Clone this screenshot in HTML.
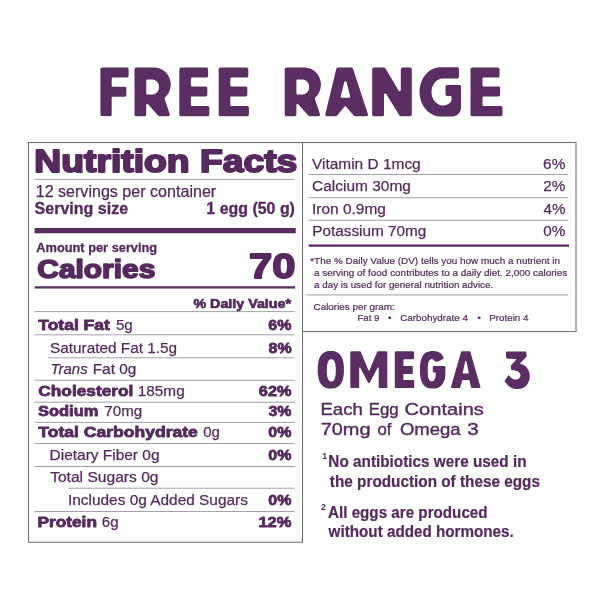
<!DOCTYPE html>
<html lang="en"><head><meta charset="utf-8"><title>Free Range - Nutrition Facts</title>
<style>
html,body{margin:0;padding:0;background:#fff;}
body{width:600px;height:600px;overflow:hidden;font-family:"Liberation Sans",sans-serif;}
svg{display:block;will-change:transform;}
svg text{font-family:"Liberation Sans",sans-serif;fill:#562a5e;white-space:pre;}
</style></head>
<body>
<svg width="600" height="600" viewBox="0 0 600 600">
<g fill="#5a2e62" fill-rule="evenodd">
<path d="M111.7,78.8 111.8,78.3 112.0,78.0 112.3,77.7 112.8,77.6 127.0,77.6 127.4,77.5 127.9,77.3 128.4,76.8 128.6,76.1 128.6,69.2 128.5,68.8 128.3,68.3 127.8,67.8 127.0,67.6 102.0,67.6 101.2,67.8 100.9,68.0 100.6,68.4 100.4,69.2 100.4,114.6 100.5,115.1 100.7,115.6 101.1,115.9 101.6,116.1 110.2,116.2 111.0,115.9 111.5,115.4 111.7,114.6 111.7,97.9 111.8,97.3 112.1,97.0 112.4,96.8 112.9,96.7 125.0,96.7 125.4,96.6 125.8,96.3 126.1,96.0 126.3,95.5 126.4,88.3 126.3,87.7 126.0,87.3 125.5,86.9 124.9,86.7 112.9,86.7 112.3,86.6 111.9,86.2 111.7,85.6Z"/>
<path d="M146.2,105.2 146.4,104.6 146.9,104.1 147.6,104.1 148.2,104.4 158.1,115.6 158.7,116.1 159.3,116.2 168.3,116.2 169.1,115.9 169.4,115.6 169.7,115.2 169.8,114.7 169.7,114.1 164.6,98.8 164.5,98.3 164.8,97.7 166.5,95.9 168.0,94.0 169.0,92.2 169.8,90.2 170.4,87.8 170.7,85.4 170.7,83.3 170.3,80.9 169.8,78.9 169.0,76.9 168.0,75.1 166.8,73.5 165.4,72.0 163.5,70.5 161.8,69.4 160.0,68.6 157.6,67.9 155.3,67.6 136.1,67.6 135.6,67.7 135.2,67.9 134.8,68.2 134.6,68.6 134.5,69.2 134.5,114.6 134.6,115.2 134.9,115.7 135.5,116.1 136.1,116.2 144.6,116.2 145.2,116.1 145.7,115.8 146.1,115.2 146.2,114.6ZM146.2,93.3 146.3,80.4 146.5,79.9 146.8,79.6 147.2,79.5 152.7,79.5 154.0,79.8 155.1,80.3 156.3,81.1 157.2,82.0 158.1,83.3 158.6,84.6 158.9,86.1 159.0,87.7 158.7,89.2 158.2,90.6 157.3,91.9 156.3,92.9 155.5,93.5 154.7,93.9 153.7,94.3 152.7,94.5 147.3,94.5 146.8,94.4 146.5,94.1 146.3,93.6Z"/>
<path d="M179.3,114.6 179.4,115.2 179.7,115.7 180.3,116.1 180.9,116.2 207.7,116.2 208.5,116.0 208.8,115.8 209.1,115.4 209.3,114.6 209.3,107.5 209.0,106.7 208.5,106.2 207.7,106.0 192.0,106.0 191.5,105.9 191.2,105.6 191.0,105.1 190.9,104.8 190.9,97.5 191.1,96.9 191.5,96.5 192.1,96.4 205.8,96.4 206.6,96.1 207.0,95.8 207.2,95.4 207.3,94.8 207.3,88.0 207.2,87.4 206.9,86.9 206.3,86.5 205.7,86.4 192.1,86.4 191.5,86.3 191.1,85.9 190.9,85.3 190.9,78.8 191.0,78.5 191.2,78.0 191.5,77.7 192.0,77.6 206.5,77.6 207.0,77.5 207.4,77.3 207.9,76.8 208.1,76.1 208.1,69.2 207.9,68.4 207.6,68.0 207.3,67.8 206.5,67.6 180.9,67.6 180.1,67.8 179.8,68.0 179.5,68.4 179.3,69.2Z"/>
<path d="M218.7,114.6 218.8,115.2 219.1,115.7 219.7,116.1 220.3,116.2 247.3,116.2 248.1,116.0 248.6,115.5 248.8,115.0 248.9,114.6 248.9,107.5 248.6,106.7 248.1,106.2 247.3,106.0 231.4,106.0 230.9,105.9 230.6,105.6 230.4,105.1 230.3,104.8 230.3,97.5 230.5,96.9 230.9,96.5 231.5,96.4 245.8,96.4 246.6,96.1 247.0,95.8 247.2,95.4 247.3,94.8 247.3,88.0 247.2,87.4 246.8,86.8 246.3,86.5 245.7,86.4 231.5,86.4 230.9,86.3 230.5,85.9 230.3,85.3 230.3,78.8 230.4,78.5 230.6,78.0 230.9,77.7 231.4,77.6 246.7,77.6 247.1,77.5 247.6,77.3 248.1,76.8 248.3,76.0 248.3,69.1 248.1,68.4 247.6,67.9 247.1,67.7 246.7,67.6 220.3,67.6 219.5,67.8 219.0,68.3 218.8,68.8 218.7,69.2Z"/>
<path d="M296.4,105.2 296.6,104.6 297.1,104.1 297.8,104.1 298.4,104.4 308.3,115.6 308.9,116.1 309.5,116.2 318.5,116.2 319.3,115.9 319.6,115.6 319.9,115.2 320.0,114.7 319.9,114.1 314.8,98.8 314.7,98.3 315.0,97.7 316.7,95.9 318.2,94.0 319.2,92.2 320.0,90.2 320.6,87.8 320.9,85.4 320.9,83.3 320.5,80.9 320.0,78.9 319.2,76.9 318.2,75.1 317.0,73.5 315.6,72.0 313.7,70.5 312.0,69.4 310.2,68.6 307.8,67.9 305.5,67.6 286.3,67.6 285.8,67.7 285.4,67.9 285.0,68.2 284.8,68.6 284.7,69.2 284.7,114.6 284.8,115.2 285.1,115.7 285.7,116.1 286.3,116.2 294.8,116.2 295.4,116.1 295.9,115.8 296.3,115.2 296.4,114.6ZM296.4,80.7 296.5,80.2 296.7,79.9 297.0,79.6 297.4,79.5 302.9,79.5 304.2,79.8 305.3,80.3 306.5,81.1 307.4,82.0 308.3,83.3 308.8,84.6 309.1,86.1 309.2,87.7 308.9,89.2 308.4,90.6 307.5,91.9 306.5,92.9 305.7,93.5 304.9,93.9 303.9,94.3 302.9,94.5 297.5,94.5 297.0,94.4 296.7,94.1 296.5,93.6 296.4,93.3Z"/>
<path d="M325.3,114.2 325.3,114.9 325.5,115.5 326.0,115.9 326.5,116.2 336.0,116.2 336.6,116.1 337.3,115.6 344.4,106.7 344.8,106.4 345.2,106.3 345.8,106.4 346.1,106.7 353.7,115.6 354.4,116.1 355.0,116.2 366.5,116.2 367.3,115.9 367.8,115.4 368.0,114.8 367.9,114.1 353.0,68.7 352.7,68.2 352.2,67.8 351.4,67.6 337.8,67.6 337.1,67.8 336.5,68.4 336.3,68.8ZM341.8,97.8 341.3,97.7 340.9,97.3 340.7,96.9 340.7,96.3 344.3,82.1 344.5,81.8 344.9,81.5 345.3,81.3 345.8,81.3 346.4,81.7 346.6,82.2 350.1,96.3 350.1,96.9 349.7,97.5 349.1,97.8Z"/>
<path d="M373.8,67.6 373.2,67.7 372.7,68.0 372.3,68.6 372.2,69.2 372.2,114.6 372.3,115.1 372.5,115.6 373.0,116.0 373.7,116.2 382.4,116.2 383.2,116.0 383.5,115.8 383.8,115.4 384.0,114.6 384.0,94.7 384.1,94.3 384.4,93.9 384.8,93.7 385.2,93.6 385.8,93.7 386.2,94.1 399.5,115.4 399.8,115.8 400.3,116.1 400.9,116.2 410.2,116.2 410.7,116.1 411.2,115.9 411.6,115.3 411.8,114.6 411.8,69.2 411.7,68.7 411.5,68.2 411.0,67.8 410.3,67.6 402.4,67.6 402.0,67.7 401.5,67.9 401.0,68.5 400.8,69.2 400.8,90.0 400.7,90.5 400.4,90.8 400.0,91.1 399.6,91.1 399.1,91.0 398.6,90.5 385.5,68.4 385.2,68.0 384.6,67.7 384.1,67.6Z"/>
<path d="M440.5,67.2 437.9,67.4 435.4,67.9 433.4,68.7 431.0,69.8 428.8,71.3 426.8,73.2 425.3,74.9 423.6,77.2 422.2,79.7 421.1,82.4 420.3,85.3 419.7,88.2 419.5,90.7 419.6,93.7 419.9,96.7 420.6,99.6 421.3,101.9 422.5,104.5 423.6,106.6 425.3,108.8 426.8,110.5 428.4,112.0 430.6,113.6 432.5,114.6 433.9,115.3 435.9,115.9 437.4,116.2 439.4,116.5 452.0,116.5 453.3,116.4 454.6,116.1 455.8,115.7 456.7,115.2 457.7,114.4 458.6,113.6 459.5,112.5 460.0,111.7 460.5,110.5 460.8,109.2 461.0,107.5 461.0,86.6 460.9,86.0 460.6,85.6 460.0,85.1 459.4,85.0 447.1,85.0 446.4,85.2 445.8,85.6 445.6,86.1 445.5,86.6 445.5,94.4 445.6,95.0 446.1,95.6 446.8,96.0 450.4,96.0 450.8,96.1 451.1,96.4 451.4,96.7 451.5,97.1 451.5,100.8 451.3,101.3 450.7,102.0 449.6,103.0 448.7,103.7 446.9,104.7 445.8,105.1 444.7,105.4 443.3,105.5 442.2,105.5 440.8,105.2 439.6,104.9 438.3,104.3 437.1,103.6 436.1,102.8 435.1,101.8 434.1,100.6 433.4,99.5 432.7,98.1 432.2,96.6 431.8,95.3 431.6,93.7 431.5,92.0 431.6,90.7 431.8,88.7 432.3,87.1 433.0,85.4 433.8,83.9 434.9,82.5 435.9,81.3 437.3,80.3 438.8,79.4 440.5,78.8 442.4,78.5 457.4,78.5 457.9,78.4 458.4,78.2 458.8,77.6 459.0,77.0 458.9,68.4 458.7,67.9 458.4,67.6 458.0,67.3 457.5,67.2Z"/>
<path d="M470.5,114.6 470.6,115.2 470.9,115.7 471.5,116.1 472.1,116.2 500.9,116.2 501.7,116.0 502.2,115.5 502.4,115.0 502.5,114.6 502.5,107.5 502.2,106.7 501.6,106.2 500.9,106.0 483.6,106.0 483.2,105.9 482.9,105.6 482.6,105.3 482.5,104.9 482.5,97.5 482.7,96.9 483.1,96.5 483.7,96.4 498.6,96.4 499.4,96.1 499.8,95.8 500.0,95.4 500.1,94.8 500.1,87.9 499.8,87.1 499.3,86.6 498.5,86.4 483.6,86.4 483.1,86.3 482.8,86.0 482.6,85.7 482.5,85.2 482.5,78.7 482.7,78.1 483.1,77.7 483.7,77.6 497.9,77.6 498.5,77.5 499.1,77.1 499.4,76.6 499.5,76.1 499.5,69.2 499.3,68.4 498.8,67.9 498.3,67.7 497.9,67.6 472.1,67.6 471.3,67.8 470.8,68.3 470.6,68.8 470.5,69.2Z"/>
</g>
<g fill="#5a2e62" fill-rule="evenodd">
<path d="M343.9,367.6 343.5,363.4 343.1,361.1 342.5,359.0 341.7,357.1 340.7,355.5 339.6,354.2 338.3,353.0 336.9,352.2 335.2,351.5 333.4,351.1 330.8,351.0 328.2,351.1 326.4,351.5 324.7,352.2 323.3,353.0 322.6,353.6 321.4,354.8 320.4,356.3 319.5,358.0 318.8,360.0 318.3,362.2 317.8,366.1 317.7,371.9 317.9,374.8 318.3,377.3 319.1,380.5 319.9,382.4 320.9,384.0 322.0,385.3 322.6,385.9 324.0,386.9 325.5,387.7 326.4,388.0 328.2,388.4 329.3,388.5 332.3,388.5 334.3,388.2 336.1,387.7 336.9,387.3 338.3,386.5 339.6,385.3 340.2,384.7 341.2,383.2 342.1,381.5 342.8,379.5 343.3,377.3 343.7,374.8 343.9,371.9ZM335.8,371.5 335.7,374.0 335.3,376.6 334.8,378.2 334.1,379.9 333.6,380.5 333.0,381.0 332.1,381.4 330.8,381.5 330.1,381.3 329.6,381.0 329.0,380.5 328.3,379.6 327.8,378.2 327.4,377.2 327.1,375.4 326.9,374.0 326.8,369.3 327.0,366.1 327.2,364.8 327.6,363.1 328.1,361.6 328.5,360.9 329.3,360.0 329.8,359.6 330.8,359.3 331.8,359.3 332.5,359.5 333.0,359.8 333.6,360.3 334.1,360.9 334.5,361.6 335.2,363.6 335.5,365.4 335.8,368.4Z"/>
<path d="M350.3,387.1 350.4,387.5 350.6,387.8 350.9,388.0 351.3,388.1 358.3,388.1 358.8,387.9 359.1,387.5 359.2,387.1 359.2,368.0 359.3,367.8 359.5,367.5 359.9,367.5 360.3,367.7 368.0,382.5 368.4,382.9 368.9,383.0 369.4,382.9 369.8,382.5 377.6,367.7 377.8,367.5 378.1,367.4 378.5,367.6 378.7,368.0 378.7,387.1 378.8,387.5 379.2,387.9 379.7,388.1 386.3,388.1 386.7,388.0 387.0,387.8 387.2,387.5 387.3,387.1 387.3,352.3 387.2,351.9 387.0,351.6 386.7,351.4 386.3,351.3 378.1,351.3 377.7,351.4 377.4,351.6 377.1,351.9 369.5,370.3 369.2,370.5 368.9,370.6 368.6,370.5 368.4,370.3 360.9,351.9 360.6,351.6 360.3,351.4 359.9,351.3 351.3,351.3 350.9,351.4 350.6,351.6 350.4,351.9 350.3,352.3Z"/>
<path d="M403.4,359.9 403.6,359.5 403.9,359.3 413.0,359.3 413.6,359.1 413.9,358.8 414.0,358.3 414.0,352.3 413.8,351.7 413.5,351.4 413.0,351.3 395.8,351.3 395.3,351.5 394.9,351.8 394.8,352.3 394.8,387.1 394.9,387.5 395.2,387.9 395.8,388.1 413.2,388.1 413.6,388.0 414.0,387.7 414.2,387.1 414.2,380.9 414.1,380.5 413.8,380.2 413.6,380.1 413.2,380.0 403.9,380.0 403.7,379.9 403.4,379.6 403.4,374.6 403.5,374.3 403.7,374.1 404.0,374.0 411.9,374.0 412.3,373.9 412.6,373.6 412.8,373.0 412.8,367.0 412.7,366.6 412.6,366.4 412.3,366.1 411.9,366.0 404.0,366.0 403.6,365.9 403.4,365.4Z"/>
<path d="M433.7,366.0 433.1,366.2 432.8,366.7 432.8,371.9 433.0,372.3 433.4,372.5 435.3,372.6 435.7,372.9 435.8,374.1 435.5,376.6 435.2,377.7 434.8,379.0 434.4,379.8 433.8,380.5 433.3,380.9 432.6,381.1 431.8,381.2 431.0,381.1 430.4,380.9 429.8,380.6 429.4,380.0 429.0,379.4 428.5,378.2 428.2,377.2 427.9,374.8 427.7,371.5 427.8,366.3 428.2,363.2 428.7,361.8 429.0,361.0 429.6,360.1 430.3,359.5 431.3,359.2 432.3,359.2 433.0,359.4 433.7,359.8 434.2,360.4 434.8,361.3 435.2,361.6 435.5,361.7 438.3,361.6 443.4,358.8 443.7,358.4 443.7,357.9 442.9,356.2 442.0,354.8 441.4,354.1 440.2,353.1 439.5,352.6 438.1,351.9 437.3,351.6 436.3,351.4 434.3,351.1 431.1,351.1 429.0,351.4 427.4,351.9 426.6,352.2 425.9,352.6 424.6,353.5 423.4,354.8 422.5,356.2 422.0,357.1 421.0,359.8 420.3,363.2 420.0,365.9 420.0,369.8 420.0,373.7 420.3,376.4 420.7,378.8 421.6,381.7 422.5,383.4 423.0,384.2 424.0,385.4 425.2,386.6 426.6,387.4 427.3,387.7 429.0,388.2 431.2,388.5 434.2,388.5 435.3,388.4 437.3,388.0 438.1,387.7 439.5,387.0 440.8,386.0 441.9,384.8 442.4,384.2 443.4,382.5 444.3,380.2 444.8,379.7 445.0,379.3 445.0,377.1 445.3,375.1 445.4,372.1 445.4,366.9 445.2,366.3 444.9,366.1 444.5,366.0Z"/>
<path d="M451.0,386.8 450.9,387.2 451.1,387.6 451.4,387.9 451.8,388.1 459.2,388.1 459.6,388.0 459.9,387.8 460.2,387.5 462.2,380.4 462.4,380.1 462.8,380.0 468.8,380.0 469.2,380.1 469.4,380.4 471.1,387.3 471.3,387.7 471.5,387.9 472.1,388.1 479.5,388.1 480.0,387.9 480.4,387.6 480.5,387.2 480.4,386.8 470.4,352.0 470.2,351.7 469.9,351.4 469.4,351.3 461.9,351.3 461.5,351.4 461.1,351.8ZM463.2,373.5 462.8,373.3 462.7,372.8 465.2,361.3 465.5,360.9 465.9,360.8 466.2,361.0 466.4,361.3 468.8,373.0 468.7,373.3 468.3,373.5Z"/>
<path d="M525.5,351.4 506.5,351.5 506.3,351.6 506.0,352.2 506.2,357.9 506.3,358.2 506.5,358.4 507.0,358.6 515.5,358.9 515.9,359.0 516.0,359.3 516.0,359.6 515.9,359.9 510.9,365.4 510.8,365.8 511.1,369.4 511.2,369.7 511.7,370.1 515.9,370.8 517.6,371.3 518.3,371.7 519.2,372.4 519.8,373.2 520.3,374.5 520.4,375.5 520.3,376.4 519.9,377.2 519.7,377.7 519.1,378.3 518.3,378.9 517.4,379.3 516.4,379.6 515.4,379.6 513.9,379.4 512.5,378.8 511.1,377.8 509.0,375.6 508.6,375.5 508.2,375.5 507.8,375.9 504.7,380.7 504.6,381.1 504.7,381.5 506.6,383.8 508.6,386.0 510.2,387.1 511.7,387.9 512.5,388.3 515.0,388.9 516.6,389.1 518.2,389.1 520.6,388.8 522.8,388.1 524.1,387.3 525.4,386.4 526.5,385.3 527.5,384.0 528.3,382.6 528.9,381.1 529.4,379.5 529.7,377.9 529.7,375.3 529.4,372.8 528.9,371.2 527.7,368.9 526.7,367.6 525.1,366.0 523.5,365.1 520.6,363.9 520.4,363.7 520.3,363.4 520.4,362.9 526.6,356.5 526.7,356.0 526.2,351.9 525.9,351.5Z"/>
</g>

<g>
<rect x="28.0" y="142" width="1" height="400.75" fill="#776579"/>
<rect x="302.0" y="142" width="1" height="400.75" fill="#776579"/>
<rect x="575.5" y="142" width="1" height="190" fill="#776579"/>
<rect x="28" y="142.0" width="548.5" height="1" fill="#776579"/>
<rect x="28" y="541.75" width="275" height="1" fill="#776579"/>
<rect x="302" y="331.0" width="274.5" height="1" fill="#776579"/>
<rect x="34.6" y="178.9" width="260.0" height="1.0" fill="#a79fab"/>
<rect x="34.6" y="228.0" width="261.1" height="5.3" fill="#5a2e62"/>
<rect x="34.6" y="286.25" width="260.5" height="2.3" fill="#5a2e62"/>
<rect x="34.6" y="311.1" width="260.0" height="1.0" fill="#a79fab"/>
<rect x="34.6" y="334.3" width="260.0" height="1.0" fill="#a79fab"/>
<rect x="48.3" y="357.3" width="246.3" height="1.0" fill="#a79fab"/>
<rect x="34.6" y="379.7" width="260.0" height="1.0" fill="#a79fab"/>
<rect x="34.6" y="401.7" width="260.0" height="1.0" fill="#a79fab"/>
<rect x="34.6" y="421.9" width="260.0" height="1.0" fill="#a79fab"/>
<rect x="34.6" y="443.0" width="260.0" height="1.0" fill="#a79fab"/>
<rect x="34.6" y="466.0" width="260.0" height="1.0" fill="#a79fab"/>
<rect x="68.7" y="487.7" width="225.9" height="1.0" fill="#a79fab"/>
<rect x="34.6" y="511.0" width="260.0" height="1.0" fill="#a79fab"/>
<rect x="308.6" y="174.0" width="259.8" height="1.0" fill="#a79fab"/>
<rect x="308.6" y="197.2" width="259.8" height="1.0" fill="#a79fab"/>
<rect x="308.6" y="219.7" width="259.8" height="1.0" fill="#a79fab"/>
<rect x="308.6" y="244.45" width="260.4" height="2.3" fill="#5a2e62"/>
<rect x="306.4" y="294.4" width="262.0" height="1.0" fill="#a79fab"/>
</g>
<g>
<text x="34.39" y="172" font-size="30.8" font-weight="bold" textLength="262.94" lengthAdjust="spacingAndGlyphs" stroke="#562a5e" stroke-width="1.9" stroke-linejoin="round">Nutrition Facts</text>
<text x="35.69" y="196.6" font-size="15.7" textLength="180.54" lengthAdjust="spacingAndGlyphs" stroke="#562a5e" stroke-width="0.25" stroke-linejoin="round">12 servings per container</text>
<text x="34.58" y="214.3" font-size="15.7" font-weight="bold" textLength="93.59" lengthAdjust="spacingAndGlyphs" stroke="#562a5e" stroke-width="0.3" stroke-linejoin="round">Serving size</text>
<text x="206.35" y="214.3" font-size="15.7" font-weight="bold" textLength="88.59" lengthAdjust="spacingAndGlyphs" stroke="#562a5e" stroke-width="0.3" stroke-linejoin="round">1 egg (50 g)</text>
<text x="36.28" y="252" font-size="12.7" font-weight="bold" textLength="120.92" lengthAdjust="spacingAndGlyphs" stroke="#562a5e" stroke-width="0.3" stroke-linejoin="round">Amount per serving</text>
<text x="37.35" y="277.5" font-size="26.0" font-weight="bold" textLength="117.98" lengthAdjust="spacingAndGlyphs" stroke="#562a5e" stroke-width="1.6" stroke-linejoin="round">Calories</text>
<text x="248.96" y="277.5" font-size="35.6" font-weight="bold" textLength="46.42" lengthAdjust="spacingAndGlyphs" stroke="#562a5e" stroke-width="1.8" stroke-linejoin="round">70</text>
<text x="193.47" y="308.2" font-size="12.9" font-weight="bold" textLength="97.54" lengthAdjust="spacingAndGlyphs" stroke="#562a5e" stroke-width="0.7" stroke-linejoin="round">% Daily Value*</text>
<text x="38.31" y="329.5" font-size="15.3" font-weight="bold" textLength="71.51" lengthAdjust="spacingAndGlyphs" stroke="#562a5e" stroke-width="0.8" stroke-linejoin="round">Total Fat</text>
<text x="115.91" y="329.5" font-size="15.3" textLength="16.9" lengthAdjust="spacingAndGlyphs" stroke="#562a5e" stroke-width="0.25" stroke-linejoin="round">5g</text>
<text x="268.38" y="329.5" font-size="15.3" font-weight="bold" textLength="22.95" lengthAdjust="spacingAndGlyphs" stroke="#562a5e" stroke-width="0.8" stroke-linejoin="round">6%</text>
<text x="50.06" y="352.8" font-size="15.3" textLength="127.04" lengthAdjust="spacingAndGlyphs" stroke="#562a5e" stroke-width="0.25" stroke-linejoin="round">Saturated Fat 1.5g</text>
<text x="268.54" y="352.8" font-size="15.3" font-weight="bold" textLength="22.99" lengthAdjust="spacingAndGlyphs" stroke="#562a5e" stroke-width="0.8" stroke-linejoin="round">8%</text>
<text x="38.29" y="395.5" font-size="15.3" font-weight="bold" textLength="95.09" lengthAdjust="spacingAndGlyphs" stroke="#562a5e" stroke-width="0.8" stroke-linejoin="round">Cholesterol</text>
<text x="137.72" y="395.5" font-size="15.3" textLength="46.96" lengthAdjust="spacingAndGlyphs" stroke="#562a5e" stroke-width="0.25" stroke-linejoin="round">185mg</text>
<text x="258.86" y="395.5" font-size="15.3" font-weight="bold" textLength="32.54" lengthAdjust="spacingAndGlyphs" stroke="#562a5e" stroke-width="0.8" stroke-linejoin="round">62%</text>
<text x="38.08" y="416.2" font-size="15.3" font-weight="bold" textLength="60.22" lengthAdjust="spacingAndGlyphs" stroke="#562a5e" stroke-width="0.8" stroke-linejoin="round">Sodium</text>
<text x="104.25" y="416.2" font-size="15.3" textLength="37.97" lengthAdjust="spacingAndGlyphs" stroke="#562a5e" stroke-width="0.25" stroke-linejoin="round">70mg</text>
<text x="268.55" y="416.2" font-size="15.3" font-weight="bold" textLength="22.92" lengthAdjust="spacingAndGlyphs" stroke="#562a5e" stroke-width="0.8" stroke-linejoin="round">3%</text>
<text x="38.3" y="437.2" font-size="15.3" font-weight="bold" textLength="159.53" lengthAdjust="spacingAndGlyphs" stroke="#562a5e" stroke-width="0.8" stroke-linejoin="round">Total Carbohydrate</text>
<text x="203.28" y="437.2" font-size="15.3" textLength="16.65" lengthAdjust="spacingAndGlyphs" stroke="#562a5e" stroke-width="0.25" stroke-linejoin="round">0g</text>
<text x="268.28" y="437.2" font-size="15.3" font-weight="bold" textLength="23.05" lengthAdjust="spacingAndGlyphs" stroke="#562a5e" stroke-width="0.8" stroke-linejoin="round">0%</text>
<text x="49.61" y="460.3" font-size="15.3" textLength="109.87" lengthAdjust="spacingAndGlyphs" stroke="#562a5e" stroke-width="0.25" stroke-linejoin="round">Dietary Fiber 0g</text>
<text x="268.28" y="460.3" font-size="15.3" font-weight="bold" textLength="23.05" lengthAdjust="spacingAndGlyphs" stroke="#562a5e" stroke-width="0.8" stroke-linejoin="round">0%</text>
<text x="50.15" y="482.2" font-size="15.3" textLength="108.36" lengthAdjust="spacingAndGlyphs" stroke="#562a5e" stroke-width="0.25" stroke-linejoin="round">Total Sugars 0g</text>
<text x="67.96" y="504.7" font-size="15.3" textLength="179.97" lengthAdjust="spacingAndGlyphs" stroke="#562a5e" stroke-width="0.25" stroke-linejoin="round">Includes 0g Added Sugars</text>
<text x="268.28" y="504.7" font-size="15.3" font-weight="bold" textLength="23.05" lengthAdjust="spacingAndGlyphs" stroke="#562a5e" stroke-width="0.8" stroke-linejoin="round">0%</text>
<text x="37.45" y="526.7" font-size="15.3" font-weight="bold" textLength="59.53" lengthAdjust="spacingAndGlyphs" stroke="#562a5e" stroke-width="0.8" stroke-linejoin="round">Protein</text>
<text x="101.78" y="526.7" font-size="15.3" textLength="16.73" lengthAdjust="spacingAndGlyphs" stroke="#562a5e" stroke-width="0.25" stroke-linejoin="round">6g</text>
<text x="258.45" y="526.7" font-size="15.3" font-weight="bold" textLength="33.06" lengthAdjust="spacingAndGlyphs" stroke="#562a5e" stroke-width="0.8" stroke-linejoin="round">12%</text>
<text x="50.43" y="374.4" font-size="15.3" font-style="italic" textLength="37.27" lengthAdjust="spacingAndGlyphs" stroke="#562a5e" stroke-width="0.25" stroke-linejoin="round">Trans</text>
<text x="92.69" y="374.4" font-size="15.3" textLength="43.71" lengthAdjust="spacingAndGlyphs" stroke="#562a5e" stroke-width="0.25" stroke-linejoin="round">Fat 0g</text>
<text x="312.0" y="168.5" font-size="15.3" textLength="108.69" lengthAdjust="spacingAndGlyphs" stroke="#562a5e" stroke-width="0.25" stroke-linejoin="round">Vitamin D 1mcg</text>
<text x="543.08" y="168.5" font-size="15.3" textLength="22.3" lengthAdjust="spacingAndGlyphs" stroke="#562a5e" stroke-width="0.25" stroke-linejoin="round">6%</text>
<text x="311.99" y="191.3" font-size="15.3" textLength="98.94" lengthAdjust="spacingAndGlyphs" stroke="#562a5e" stroke-width="0.25" stroke-linejoin="round">Calcium 30mg</text>
<text x="543.25" y="191.3" font-size="15.3" textLength="22.15" lengthAdjust="spacingAndGlyphs" stroke="#562a5e" stroke-width="0.25" stroke-linejoin="round">2%</text>
<text x="311.96" y="213.8" font-size="15.3" textLength="73.94" lengthAdjust="spacingAndGlyphs" stroke="#562a5e" stroke-width="0.25" stroke-linejoin="round">Iron 0.9mg</text>
<text x="543.49" y="213.8" font-size="15.3" textLength="21.84" lengthAdjust="spacingAndGlyphs" stroke="#562a5e" stroke-width="0.25" stroke-linejoin="round">4%</text>
<text x="312.34" y="236.3" font-size="15.3" textLength="113.99" lengthAdjust="spacingAndGlyphs" stroke="#562a5e" stroke-width="0.25" stroke-linejoin="round">Potassium 70mg</text>
<text x="543.27" y="236.3" font-size="15.3" textLength="22.07" lengthAdjust="spacingAndGlyphs" stroke="#562a5e" stroke-width="0.25" stroke-linejoin="round">0%</text>
<text x="310.22" y="263.8" font-size="9.9" textLength="249.74" lengthAdjust="spacingAndGlyphs" stroke="#562a5e" stroke-width="0.22" stroke-linejoin="round">*The % Daily Value (DV) tells you how much a nutrient in</text>
<text x="314.02" y="275.8" font-size="9.9" textLength="253.19" lengthAdjust="spacingAndGlyphs" stroke="#562a5e" stroke-width="0.22" stroke-linejoin="round">a serving of food contributes to a daily diet. 2,000 calories</text>
<text x="314.05" y="287.6" font-size="9.9" textLength="179.19" lengthAdjust="spacingAndGlyphs" stroke="#562a5e" stroke-width="0.22" stroke-linejoin="round">a day is used for general nutrition advice.</text>
<text x="313.57" y="309.5" font-size="9.9" textLength="81.19" lengthAdjust="spacingAndGlyphs" stroke="#562a5e" stroke-width="0.22" stroke-linejoin="round">Calories per gram:</text>
<text x="357.42" y="321.3" font-size="9.9" textLength="22.03" lengthAdjust="spacingAndGlyphs" stroke="#562a5e" stroke-width="0.22" stroke-linejoin="round">Fat 9</text>
<text x="387.77" y="321.3" font-size="9.9" textLength="3.97" lengthAdjust="spacingAndGlyphs">•</text>
<text x="400.27" y="321.3" font-size="9.9" textLength="67.61" lengthAdjust="spacingAndGlyphs" stroke="#562a5e" stroke-width="0.22" stroke-linejoin="round">Carbohydrate 4</text>
<text x="477.16" y="321.3" font-size="9.9" textLength="3.86" lengthAdjust="spacingAndGlyphs">•</text>
<text x="489.26" y="321.3" font-size="9.9" textLength="39.23" lengthAdjust="spacingAndGlyphs" stroke="#562a5e" stroke-width="0.22" stroke-linejoin="round">Protein 4</text>
<text x="320.52" y="415.3" font-size="16.8" textLength="42.17" lengthAdjust="spacingAndGlyphs" stroke="#562a5e" stroke-width="0.4" stroke-linejoin="round">Each</text>
<text x="368.73" y="415.3" font-size="16.8" textLength="29.94" lengthAdjust="spacingAndGlyphs" stroke="#562a5e" stroke-width="0.4" stroke-linejoin="round">Egg</text>
<text x="404.61" y="415.3" font-size="16.8" textLength="79.24" lengthAdjust="spacingAndGlyphs" stroke="#562a5e" stroke-width="0.4" stroke-linejoin="round">Contains</text>
<text x="320.66" y="435.0" font-size="16.8" textLength="49.8" lengthAdjust="spacingAndGlyphs" stroke="#562a5e" stroke-width="0.4" stroke-linejoin="round">70mg</text>
<text x="377.5" y="435.0" font-size="16.8" textLength="14.05" lengthAdjust="spacingAndGlyphs" stroke="#562a5e" stroke-width="0.4" stroke-linejoin="round">of</text>
<text x="399.94" y="435.0" font-size="16.8" textLength="60.61" lengthAdjust="spacingAndGlyphs" stroke="#562a5e" stroke-width="0.4" stroke-linejoin="round">Omega</text>
<text x="467.21" y="435.0" font-size="16.8" textLength="11.51" lengthAdjust="spacingAndGlyphs" stroke="#562a5e" stroke-width="0.4" stroke-linejoin="round">3</text>
<text x="328.37" y="467.2" font-size="17.4" font-weight="bold" textLength="198.18" lengthAdjust="spacingAndGlyphs" stroke="#562a5e" stroke-width="0.22" stroke-linejoin="round">No antibiotics were used in</text>
<text x="329.86" y="486.9" font-size="17.4" font-weight="bold" textLength="210.05" lengthAdjust="spacingAndGlyphs" stroke="#562a5e" stroke-width="0.22" stroke-linejoin="round">the production of these eggs</text>
<text x="328.0" y="517.7" font-size="17.4" font-weight="bold" textLength="159.57" lengthAdjust="spacingAndGlyphs" stroke="#562a5e" stroke-width="0.22" stroke-linejoin="round">All eggs are produced</text>
<text x="328.61" y="536.6" font-size="17.4" font-weight="bold" textLength="185.16" lengthAdjust="spacingAndGlyphs" stroke="#562a5e" stroke-width="0.22" stroke-linejoin="round">without added hormones.</text>
<text x="322.18" y="459.0" font-size="9.0" font-weight="bold">1</text>
<text x="321.0" y="510.4" font-size="9.0" font-weight="bold">2</text>
</g>
</svg>
</body></html>
